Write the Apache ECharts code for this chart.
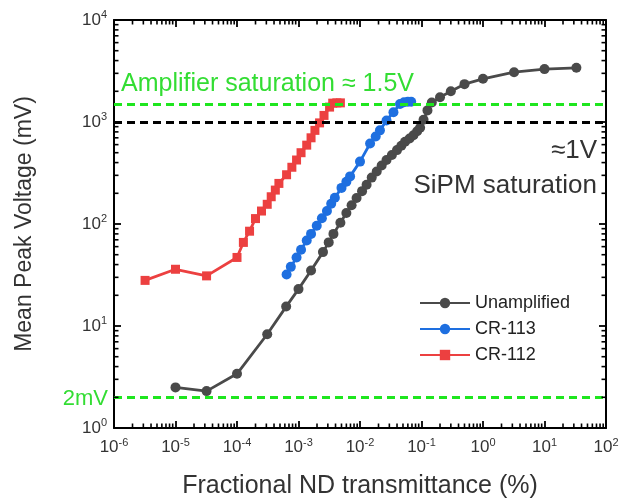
<!DOCTYPE html>
<html><head><meta charset="utf-8">
<script src="https://cdn.jsdelivr.net/npm/echarts@6/dist/echarts.min.js"></script>
<style>html,body{margin:0;padding:0;background:#fff}#c{width:640px;height:504px}</style>
</head><body><div id="c"></div>
<script>
// ---- data ----
const unampX = [1e-5, 3.2e-5, 1e-4, 3.1e-4, 6.3e-4, 1e-3, 1.6e-3, 2.5e-3, 3.1e-3, 3.7e-3, 4.8e-3, 6e-3, 7.3e-3, 8.8e-3, 0.0108, 0.0128, 0.0155, 0.0187, 0.0225, 0.027, 0.033, 0.04, 0.047, 0.054, 0.064, 0.074, 0.085, 0.095, 0.108, 0.125, 0.147, 0.2, 0.3, 0.5, 1.0, 3.2, 10, 33];
const unampY = [2.5, 2.3, 3.4, 8.3, 15.5, 23, 35, 53, 66, 80, 103, 128, 153, 180, 210, 243, 285, 327, 375, 424, 475, 530, 585, 640, 690, 740, 810, 880, 1050, 1300, 1550, 1750, 2000, 2350, 2650, 3080, 3300, 3400];
const cr113X = [6.4e-4, 7.5e-4, 9.3e-4, 1.1e-3, 1.36e-3, 1.6e-3, 1.98e-3, 2.4e-3, 2.9e-3, 3.4e-3, 3.9e-3, 5.0e-3, 6.0e-3, 6.9e-3, 0.01, 0.0146, 0.018, 0.0211, 0.027, 0.035, 0.0447, 0.052, 0.06, 0.068];
const cr113Y = [32, 38, 47, 56, 69, 80, 96, 114, 134, 158, 181, 226, 260, 293, 409, 615, 720, 828, 1035, 1247, 1500, 1560, 1580, 1580];
const cr112X = [3.2e-6, 1e-5, 3.2e-5, 1e-4, 1.27e-4, 1.6e-4, 2.0e-4, 2.5e-4, 3.1e-4, 3.6e-4, 4.2e-4, 4.8e-4, 6.4e-4, 7.8e-4, 9.3e-4, 1.1e-3, 1.36e-3, 1.6e-3, 1.85e-3, 2.2e-3, 2.6e-3, 3.2e-3, 3.6e-3, 4.2e-3, 4.8e-3];
const cr112Y = [28, 36, 31, 47, 66, 85, 113, 134, 156, 185, 215, 250, 304, 360, 424, 500, 593, 700, 828, 980, 1160, 1400, 1530, 1540, 1540];
const seriesNames = ['Unamplified', 'CR-113', 'CR-112'];
const refLevels = [1000, 1500, 2];          // SiPM saturation, amplifier saturation, 2mV floor
const xDecades = [-6, -5, -4, -3, -2, -1, 0, 1];   // decade starts for minor ticks
const yDecades = [0, 1, 2, 3];
const minorMult = [2, 3, 4, 5, 6, 7, 8, 9];

const FONT = "'Liberation Sans', Arial, sans-serif";
const TICK = '#000';
const xMinor = [], yMinor = [];
xDecades.forEach(d => minorMult.forEach(m => xMinor.push(m * Math.pow(10, d))));
yDecades.forEach(d => minorMult.forEach(m => yMinor.push(m * Math.pow(10, d))));

const zip = (a, b) => a.map((v, i) => [v, b[i]]);
const expLabel = v => '{b|10}{s|' + Math.round(Math.log10(v)) + '}';
const rich = { b: { fontSize: 17, fontFamily: FONT, color: '#333' }, s: { fontSize: 11, fontFamily: FONT, color: '#333', padding: [0, 0, 10, 0] } };

function axisBase(extra) {
  return Object.assign({
    type: 'log', logBase: 10,
    axisLine: { show: true, lineStyle: { color: '#000', width: 2 } },
    axisTick: { show: true, inside: true, length: 7, lineStyle: { color: TICK, width: 1.8 } },
    splitLine: { show: false }, minorTick: { show: false }
  }, extra);
}

const chart = echarts.init(document.getElementById('c'), null, { renderer: 'canvas' });

const texts = [
  { type: 'text', x: 121, y: 84, z: 50, style: { text: 'Amplifier saturation \u2248 1.5V', fill: '#33dd33', font: '25px ' + FONT, align: 'left', verticalAlign: 'middle' } },
  { type: 'text', x: 597, y: 151, z: 50, style: { text: '\u22481V', fill: '#333', font: '26px ' + FONT, align: 'right', verticalAlign: 'middle' } },
  { type: 'text', x: 597, y: 186, z: 50, style: { text: 'SiPM saturation', fill: '#333', font: '26px ' + FONT, align: 'right', verticalAlign: 'middle' } },
  { type: 'text', x: 108, y: 399, z: 50, style: { text: '2mV', fill: '#33dd33', font: '22px ' + FONT, align: 'right', verticalAlign: 'middle' } }
];

const option = {
  animation: false,
  backgroundColor: '#fff',
  grid: { left: 114, right: 34, top: 20, bottom: 71 },
  xAxis: [
    axisBase({ min: 1e-6, max: 100, splitNumber: 8, position: 'bottom',
      name: 'Fractional ND transmittance (%)', nameLocation: 'middle', nameGap: 46,
      nameTextStyle: { fontSize: 25, fontFamily: FONT, color: '#333' },
      axisLabel: { formatter: expLabel, rich: rich, margin: 9 } }),
    axisBase({ min: 1e-6, max: 100, splitNumber: 8, position: 'top', axisLabel: { show: false } })
  ],
  yAxis: [
    axisBase({ min: 1, max: 10000, splitNumber: 4, position: 'left',
      name: 'Mean Peak Voltage (mV)', nameLocation: 'middle', nameGap: 78,
      nameTextStyle: { fontSize: 23, fontFamily: FONT, color: '#333' },
      axisLabel: { formatter: expLabel, rich: rich, margin: 7 } }),
    axisBase({ min: 1, max: 10000, splitNumber: 4, position: 'right', axisLabel: { show: false } })
  ],
  legend: {
    data: seriesNames, orient: 'vertical', left: 414, top: 289, itemGap: 8,
    itemWidth: 50, itemHeight: 13,
    textStyle: { fontSize: 18, fontFamily: FONT, color: '#222' }
  },
  series: [
    { type: 'line', name: 'ref', data: [], z: 1, silent: true,
      markLine: { silent: true, symbol: 'none', label: { show: false }, animation: false,
        data: [
          { yAxis: refLevels[0], lineStyle: { color: '#000', type: [8, 5], width: 3 } },
          { yAxis: refLevels[1], lineStyle: { color: '#1ee61e', type: [8, 5], width: 3 } },
          { yAxis: refLevels[2], lineStyle: { color: '#1ee61e', type: [8, 5], width: 3 } }
        ] } },
    { type: 'line', name: seriesNames[0], data: zip(unampX, unampY), z: 3,
      symbol: 'circle', symbolSize: 10, itemStyle: { color: '#4a4a4a' }, lineStyle: { color: '#4a4a4a', width: 2.8 } },
    { type: 'line', name: seriesNames[1], data: zip(cr113X, cr113Y), z: 4,
      symbol: 'circle', symbolSize: 10, itemStyle: { color: '#1e6fe0' }, lineStyle: { color: '#1e6fe0', width: 2.8 } },
    { type: 'line', name: seriesNames[2], data: zip(cr112X, cr112Y), z: 4,
      symbol: 'rect', symbolSize: 9, itemStyle: { color: '#ec4040' }, lineStyle: { color: '#ec4040', width: 2.8 } }
  ],
  graphic: texts
};
chart.setOption(option);

// minor ticks (log-spaced) placed through the axes' own scales
const toX = v => chart.convertToPixel({ xAxisIndex: 0 }, v);
const toY = v => chart.convertToPixel({ yAxisIndex: 0 }, v);
const gx0 = toX(1e-6), gx1 = toX(100), gyB = toY(1), gyT = toY(10000);
const L = 4.5;
const ticks = [];
const tickLine = (x1, y1, x2, y2) => ({ type: 'line', silent: true, z: 40,
  shape: { x1: x1, y1: y1, x2: x2, y2: y2 }, style: { stroke: TICK, lineWidth: 1.6 } });
xMinor.forEach(v => {
  const p = toX(v);
  ticks.push(tickLine(p, gyB, p, gyB - L));
  ticks.push(tickLine(p, gyT, p, gyT + L));
});
yMinor.forEach(v => {
  const p = toY(v);
  ticks.push(tickLine(gx0, p, gx0 + L, p));
  ticks.push(tickLine(gx1, p, gx1 - L, p));
});
chart.setOption({ graphic: texts.concat(ticks) });
</script>
</body></html>
